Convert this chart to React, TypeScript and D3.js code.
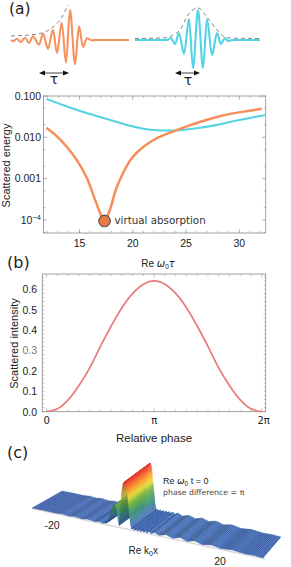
import React from "react"
import * as d3 from "d3"

// panel (a) pulses: time offset and amplitude
const orangeT = [0, 2.3, 5.7, 9.7, 14, 18, 22, 28, 32, 37, 42, 46, 50.7, 55, 59, 64, 68, 72, 76, 81, 86, 118]
const orangeA = [0, -1.3, 1.3, -2, 2.3, -3, 3.7, -4.7, 6.3, -8.7, 10.3, -13, 17.3, -22.7, 30, -24.3, 13.7, -7, 1.7, -0.3, 0, 0]
const cyanT = [0, 32, 36, 40, 44, 49, 54, 58, 63, 68, 72, 77, 82, 86, 90, 93, 97, 125]
const cyanA = [0, 0, 2, -4, 7, -14, 21, -28, 30, -28, 21, -15, 7, -4, 2, -1, 0, 0]
const orangeEnvT = [0, 22, 32, 42, 51, 57]
const orangeEnvA = [4, 5.3, 7.3, 13, 23, 35]
const cyanEnvT = [0, 32, 38, 45, 53, 63, 72, 82, 90, 95, 125]
const cyanEnvA = [1.5, 2.3, 5, 10, 25, 32, 23, 10, 3, 2, 1.5]

// panel (a) log plot
const ratioX = [11.9, 12.9, 13.8, 14.75, 15.7, 16.3, 16.95, 17.35, 17.9, 18.35, 19, 19.9, 21, 22.25, 23.5, 24.75, 26.3, 27.9, 29.4, 31, 32.1]
const orangeEnergy = [0.017, 0.0104, 0.0059, 0.0028, 0.00102, 0.0004, 0.000145, 0.000095, 0.00019, 0.00049, 0.00123, 0.0031, 0.0059, 0.0095, 0.013, 0.0172, 0.0235, 0.031, 0.038, 0.044, 0.049]
const cyanX = [11.9, 13.5, 15.06, 16.6, 18.2, 19.75, 21, 22.25, 23.5, 24.75, 26.3, 27.9, 29.4, 31, 32.5]
const cyanEnergy = [0.085, 0.06, 0.0435, 0.033, 0.025, 0.019, 0.0162, 0.0148, 0.0146, 0.0151, 0.017, 0.02, 0.0245, 0.0295, 0.0347]
const ratioTicks = [15, 20, 25, 30]
const energyTicks = [0.1, 0.01, 0.001, 0.0001]
const energyLabels = ["0.100", "0.010", "0.001"]

// panel (b)
const phaseFrac = d3.range(0, 21).map((d) => d / 10)
const intensity = [0, 0.014, 0.058, 0.128, 0.215, 0.32, 0.42, 0.51, 0.58, 0.625, 0.641, 0.625, 0.58, 0.51, 0.42, 0.32, 0.215, 0.128, 0.058, 0.014, 0]
const intensityTicks = [0, 0.1, 0.2, 0.3, 0.4, 0.5, 0.6]
const phaseLabels = ["0", "π", "2π"]

// panel (c) ridge profile
const ridgeX = [-30, -27, -24, -22.3, -20.6, -18.9, -17.2, -15.5, -13.8, -12.6, -11.6, -10.8, -10.2, -9.8, -9.3, -8.8, -8.4, -8, -7.7, -7.4, -7.1, -6.8, -6.4, -6, -5.7, -5.4, -5.1, -4.8, -4.5, -4.2, -3.8, -3.4, -3, -2.6, -2.2, -1.8, -1.4, -1, -0.6, -0.2, 0.4, 1, 1.7, 3, 4.8, 6.6, 8.4, 10.2, 12.2, 14.2, 16.6, 19, 22, 25, 27.5, 30]
const ridgeH = [0, 0.004, 0, 0.015, 0, 0.018, 0, 0.02, 0.002, 0.025, 0.005, 0.02, 0.06, 0.2, 0.35, 0.44, 0.46, 0.38, 0.18, 0.03, 0.3, 0.7, 0.95, 1, 1, 0.9, 0.65, 0.4, 0.15, 0.02, 0.03, 0.005, 0.03, 0.005, 0.035, 0.005, 0.035, 0.005, 0.04, 0.005, 0.045, 0.005, 0.05, 0.005, 0.05, 0.005, 0.055, 0.005, 0.05, 0.005, 0.04, 0.005, 0.03, 0.005, 0.012, 0]

const sans = "Liberation Sans, Arial, sans-serif"
const deja = "DejaVu Sans, sans-serif"
const frameCol = "#8a8a8a"

const pulseLine = (x: any, y: any) =>
  d3.line<[number, number]>().x((d) => x(d[0])).y((d) => y(d[1])).curve(d3.curveMonotoneX)
const zipXY = (a: number[], b: number[]) => a.map((d, i) => [d, b[i]] as [number, number])

function Arrow({ x0, x1, y }: { x0: number; x1: number; y: number }) {
  return (
    <g>
      <line x1={x0 + 3} x2={x1 - 3} y1={y} y2={y} stroke="#444" strokeWidth={1} />
      <path d={`M${x0},${y}l6,-2.5v5z`} fill="#111" />
      <path d={`M${x1},${y}l-6,-2.5v5z`} fill="#111" />
    </g>
  )
}

function Frame({ x0, x1, y0, y1 }: { x0: number; x1: number; y0: number; y1: number }) {
  return <rect x={x0} y={y0} width={x1 - x0} height={y1 - y0} fill="none" stroke={frameCol} strokeWidth={0.8} />
}

function PanelA() {
  const xo = d3.scaleLinear().domain([0, 118]).range([11, 129])
  const xc = d3.scaleLinear().domain([0, 125]).range([135, 260])
  const y = d3.scaleLinear().domain([0, 30]).range([40, 10])
  const lo = pulseLine(xo, y)
  const lc = pulseLine(xc, y)
  return (
    <g>
      <path d={lo(zipXY(orangeEnvT, orangeEnvA))!} fill="none" stroke="#666" strokeWidth={0.8} strokeDasharray="4 3" />
      <path d={lc(zipXY(cyanEnvT, cyanEnvA))!} fill="none" stroke="#666" strokeWidth={0.8} strokeDasharray="4 3" />
      <path d={lo(zipXY(orangeT, orangeA))!} fill="none" stroke="#f6925e" strokeWidth={2.1} />
      <path d={lc(zipXY(cyanT, cyanA))!} fill="none" stroke="#55d3e6" strokeWidth={2.1} />
      <Arrow x0={39} x1={69} y={73} />
      <Arrow x0={175} x1={200} y={73} />
      <text x={54} y={84} fontFamily={deja} fontSize={14} textAnchor="middle" fill="#222">τ</text>
      <text x={188} y={85} fontFamily={deja} fontSize={14} textAnchor="middle" fill="#222">τ</text>
    </g>
  )
}

function EnergyPlot() {
  const x0 = 43.5, x1 = 265.7, y0 = 96, y1 = 233
  const x = d3.scaleLinear().domain([15, 30]).range([79.5, 239.3])
  const y = d3.scaleLog().domain([0.1, 0.0001]).range([96, 220])
  const line = d3.line<[number, number]>().x((d) => x(d[0])).y((d) => y(d[1])).curve(d3.curveCatmullRom.alpha(0.5))
  const minorX = d3.range(12, 33).filter((d) => d % 5 !== 0)
  const minorY = [0.05, 0.02, 0.005, 0.002, 0.0005, 0.0002, 0.00005]
  return (
    <g>
      <Frame x0={x0} x1={x1} y0={y0} y1={y1} />
      {ratioTicks.map((d) => (
        <g key={d}>
          <line x1={x(d)} x2={x(d)} y1={y1} y2={y1 - 3.5} stroke={frameCol} strokeWidth={0.7} />
          <line x1={x(d)} x2={x(d)} y1={y0} y2={y0 + 3.5} stroke={frameCol} strokeWidth={0.7} />
          <text x={x(d)} y={247} fontFamily={sans} fontSize={10.5} textAnchor="middle" fill="#222">{d}</text>
        </g>
      ))}
      {minorX.map((d) => (
        <g key={d}>
          <line x1={x(d)} x2={x(d)} y1={y1} y2={y1 - 2} stroke={frameCol} strokeWidth={0.5} />
          <line x1={x(d)} x2={x(d)} y1={y0} y2={y0 + 2} stroke={frameCol} strokeWidth={0.5} />
        </g>
      ))}
      {energyTicks.map((d) => (
        <g key={d}>
          <line x1={x0} x2={x0 + 3.5} y1={y(d)} y2={y(d)} stroke={frameCol} strokeWidth={0.7} />
          <line x1={x1} x2={x1 - 3.5} y1={y(d)} y2={y(d)} stroke={frameCol} strokeWidth={0.7} />
        </g>
      ))}
      {minorY.map((d) => (
        <g key={d}>
          <line x1={x0} x2={x0 + 2} y1={y(d)} y2={y(d)} stroke={frameCol} strokeWidth={0.5} />
          <line x1={x1} x2={x1 - 2} y1={y(d)} y2={y(d)} stroke={frameCol} strokeWidth={0.5} />
        </g>
      ))}
      {energyLabels.map((d, i) => (
        <text key={d} x={41} y={y(energyTicks[i]) + 3.8} fontFamily={sans} fontSize={10.5} textAnchor="end" fill="#222">{d}</text>
      ))}
      <text x={41} y={y(0.0001) + 3.8} fontFamily={sans} fontSize={10.5} textAnchor="end" fill="#222">
        10<tspan dy={-3.5} fontSize={7.5}>−4</tspan>
      </text>
      <path d={line(zipXY(cyanX, cyanEnergy))!} fill="none" stroke="#55d3e0" strokeWidth={2.1} />
      <path d={line(zipXY(ratioX, orangeEnergy))!} fill="none" stroke="#f58e58" strokeWidth={2.5} />
      <circle cx={x(17.35)} cy={y(0.000095)} r={5.8} fill="#e57a42" stroke="#555" strokeWidth={1.1} />
      <text x={114.5} y={223.5} fontFamily={deja} fontSize={10.3} fill="#333">virtual absorption</text>
      <text transform="translate(9.5,165.5) rotate(-90)" fontFamily={sans} fontSize={11} textAnchor="middle" fill="#222">Scattered energy</text>
      <text x={158} y={267} fontFamily={sans} fontSize={10} textAnchor="middle" fill="#222">
        Re <tspan fontFamily={deja} fontStyle="italic">ω</tspan><tspan dy={2} fontSize={6.5}>0</tspan><tspan dy={-2} fontFamily={deja} fontStyle="italic">τ</tspan>
      </text>
    </g>
  )
}

function IntensityPlot() {
  const x0 = 42.3, x1 = 265.7, y0 = 274, y1 = 411.7
  const x = d3.scaleLinear().domain([0, 2]).range([46.7, 261.7])
  const y = d3.scaleLinear().domain([0, 0.6]).range([411.7, 289.3])
  const line = d3.line<[number, number]>().x((d) => x(d[0])).y((d) => y(d[1])).curve(d3.curveCatmullRom.alpha(0.5))
  const minorX = d3.range(0, 21).map((d) => d / 10)
  const minorY = d3.range(0, 34).map((d) => d * 0.02)
  return (
    <g>
      <Frame x0={x0} x1={x1} y0={y0} y1={y1} />
      {minorX.map((d) => (
        <g key={d}>
          <line x1={x(d)} x2={x(d)} y1={y1} y2={y1 - (d % 1 === 0 ? 3.5 : 2)} stroke={frameCol} strokeWidth={0.5} />
          <line x1={x(d)} x2={x(d)} y1={y0} y2={y0 + (d % 1 === 0 ? 3.5 : 2)} stroke={frameCol} strokeWidth={0.5} />
        </g>
      ))}
      {minorY.map((d) => (
        <g key={d}>
          <line x1={x0} x2={x0 + 2} y1={y(d)} y2={y(d)} stroke={frameCol} strokeWidth={0.5} />
          <line x1={x1} x2={x1 - 2} y1={y(d)} y2={y(d)} stroke={frameCol} strokeWidth={0.5} />
        </g>
      ))}
      {intensityTicks.map((d) => (
        <text key={d} x={37} y={y(d) + 3.8} fontFamily={sans} fontSize={10.5} textAnchor="end" fill={d === 0.3 ? "#777" : "#222"}>{d.toFixed(1)}</text>
      ))}
      {phaseLabels.map((d, i) => (
        <text key={d} x={x(i) + (i === 2 ? 2 : 0)} y={424} fontFamily={deja} fontSize={10} textAnchor="middle" fill="#222">{d}</text>
      ))}
      <path d={line(zipXY(phaseFrac, intensity))!} fill="none" stroke="#e87a7c" strokeWidth={1.7} />
      <text transform="translate(17.5,343.5) rotate(-90)" fontFamily={sans} fontSize={11} textAnchor="middle" fill="#222">Scattered intensity</text>
      <text x={154} y={442} fontFamily={sans} fontSize={11.5} textAnchor="middle" fill="#222">Relative phase</text>
    </g>
  )
}

function RidgeSurface() {
  const t = d3.scaleLinear().domain([-30, 30]).range([0, 1])
  const frontX = d3.scaleLinear().domain([0, 1]).range([32, 263])
  const frontY = d3.scaleLinear().domain([0, 1]).range([508, 558])
  const backX = d3.scaleLinear().domain([0, 1]).range([62, 281])
  const backY = d3.scaleLinear().domain([0, 1]).range([491, 537])
  const lift = d3.scaleLinear().domain([0, 1]).range([0, 46])
  const colour = d3.scaleLinear<string>()
    .domain([0, 0.1, 0.3, 0.5, 0.65, 0.8, 1])
    .range(["#3f62ad", "#3f6fa0", "#3f8f6a", "#6ea640", "#d8cc3c", "#e8902f", "#d9352e"])
    .interpolate(d3.interpolateRgb)
  const quads: { d: string; fill: string }[] = []
  const steps = 6
  for (let i = 0; i < ridgeX.length - 1; i++) {
    const xs = d3.interpolateNumber(ridgeX[i], ridgeX[i + 1])
    const hs = d3.interpolateNumber(ridgeH[i], ridgeH[i + 1])
    const slope = (lift(ridgeH[i + 1]) - lift(ridgeH[i])) / (ridgeX[i + 1] - ridgeX[i])
    const low = ridgeH[i] < 0.1 && ridgeH[i + 1] < 0.1
    for (let k = 0; k < steps; k++) {
      const a = k / steps, b = (k + 1) / steps
      const ta = t(xs(a)), tb = t(xs(b))
      const ha = lift(hs(a)), hb = lift(hs(b))
      const pts = [
        [frontX(ta), frontY(ta) - ha],
        [frontX(tb), frontY(tb) - hb],
        [backX(tb), backY(tb) - hb],
        [backX(ta), backY(ta) - ha],
      ]
      // soft bands on the ripples, plain facets on the tall peaks
      const mid = (a + b) / 2
      const soft = low ? 4 * mid * (1 - mid) : 1
      const shade = Math.max(-0.25, Math.min(0.45, slope * 0.45)) * soft
      const fill = d3.rgb(colour(hs(mid))).darker(shade).formatHex()
      quads.push({ d: "M" + pts.map((p) => p.join(",")).join("L") + "Z", fill })
    }
  }
  return (
    <g>
      <line x1={frontX(0)} y1={frontY(0) + 0.5} x2={frontX(1) + 2} y2={frontY(1) + 1} stroke="#d9d9d9" strokeWidth={1.4} />
      {quads.map((q, i) => (
        <path key={i} d={q.d} fill={q.fill} stroke={q.fill} strokeWidth={0.3} />
      ))}
      <text x={52} y={529} fontFamily={sans} fontSize={10.5} textAnchor="middle" fill="#222">-20</text>
      <text x={220} y={565} fontFamily={sans} fontSize={10.5} textAnchor="middle" fill="#222">20</text>
      <text x={128.5} y={554} fontFamily={sans} fontSize={10} fill="#222">Re k<tspan dy={2} fontSize={7}>0</tspan><tspan dy={-2}>x</tspan></text>
      <text x={163} y={484} fontFamily={sans} fontSize={9} fill="#222">
        Re <tspan fontFamily={deja} fontStyle="italic">ω</tspan><tspan dy={2} fontSize={6.5}>0</tspan><tspan dy={-2}> t = 0</tspan>
      </text>
      <text x={163} y={495} fontFamily={deja} fontSize={7.8} fill="#444">phase difference = π</text>
    </g>
  )
}

export default function App() {
  return (
    <svg width={291} height={567} style={{ position: "absolute", left: 0, top: 0, background: "#fff" }}>
      <text x={9} y={14} fontFamily={deja} fontSize={15.5} fill="#222">(a)</text>
      <text x={7} y={268} fontFamily={deja} fontSize={16} fill="#222">(b)</text>
      <text x={7} y={458} fontFamily={deja} fontSize={16} fill="#222">(c)</text>
      <PanelA />
      <EnergyPlot />
      <IntensityPlot />
      <RidgeSurface />
    </svg>
  )
}
